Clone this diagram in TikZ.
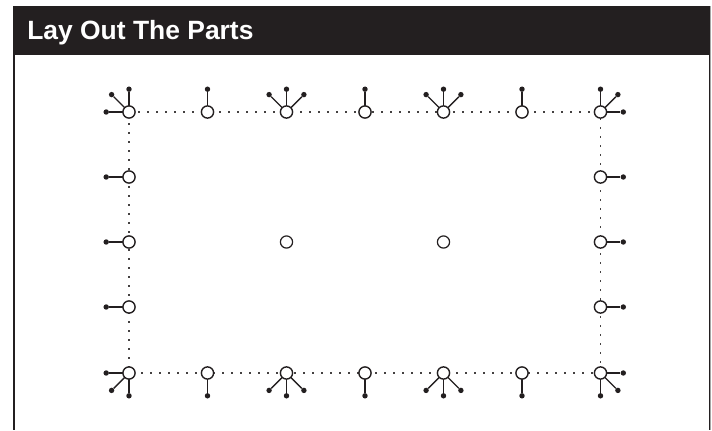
\documentclass[tikz,border=0pt]{standalone}
\usepackage{fontspec}
\setmainfont{Liberation Sans}
\definecolor{barNegro}{HTML}{231F20}
\begin{document}
\begin{tikzpicture}[
        x=0.025cm, y=-0.025cm,
        part/.style={circle, draw=barNegro, line width=1pt, fill=white, minimum size=0.305cm, inner sep=0pt},
        tip/.style={circle, fill=barNegro, minimum size=0.135cm, inner sep=0pt},
        lead/.style={draw=barNegro, line width=1pt},
        trace/.style={draw=barNegro!85, line width=1pt, dash pattern=on 1pt off 5.4pt}
    ]
        \useasboundingbox (0,0) rectangle (712,430);

        % Cabecera
        \fill[barNegro] (13.3,6) rectangle (709.5,55);
        \node[anchor=base west, text=white, font=\bfseries\fontsize{18.8}{22}\selectfont, inner sep=0pt] (titulo) at (27,39.3) {Lay Out The Parts};
        \draw[gray!70, line width=0.7pt] (710.5,6) -- (710.5,430);
        \draw[barNegro, line width=1.05pt] (14,55) -- (14,430);
        \draw[barNegro, line width=1.05pt] (709.5,55) -- (709.5,430);

        % Puntos del perimetro (fila superior, lados, fila inferior)
        \foreach \nm/\px in {a/129, b/207.5, c/286.5, d/365, e/443.5, f/522, g/600.5} {
            \coordinate (\nm t) at (\px,112);
            \coordinate (\nm b) at (\px,373);
        }
        \foreach \nm/\py in {h/177, i/242, j/307} {
            \coordinate (\nm l) at (129,\py);
            \coordinate (\nm r) at (600.5,\py);
        }

        % Trazas punteadas
        \draw[trace, dash phase=6.3pt] (at) -- (bt) -- (ct) -- (dt) -- (et) -- (ft) -- (gt);
        \draw[trace, dash phase=4.16pt] (ab) -- (bb) -- (cb) -- (db) -- (eb) -- (fb) -- (gb);
        \draw[trace, dash phase=4.66pt] (at) -- (hl) -- (il) -- (jl) -- (ab);
        \draw[trace, dash phase=1.82pt] (gt) -- (hr) -- (ir) -- (jr) -- (gb);

        % Partes y sus patillas
        \foreach \nm/\angles in {at/{90,135,180}, bt/{90}, ct/{45,90,135}, dt/{90}, et/{45,90,135}, ft/{90}, gt/{0,45,90},
                                 hl/{180}, il/{180}, jl/{180}, hr/{0}, ir/{0}, jr/{0},
                                 ab/{180,225,270}, bb/{270}, cb/{225,270,315}, db/{270}, eb/{225,270,315}, fb/{270}, gb/{0,270,315}} {
            \foreach \ang in \angles {
                \pgfmathsetmacro\reach{mod(\ang,90)==0 ? 0.57 : 0.615}
                \node[tip] (\nm-\ang) at ([shift={(\ang:\reach cm)}]\nm) {};
                \draw[lead] (\nm) -- (\nm-\ang);
            }
            \node[part] (\nm-part) at (\nm) {};
        }

        % Partes del centro
        \node[part, line width=0.85pt] (mid1) at (286.5,242) {};
        \node[part, line width=0.85pt] (mid2) at (443.5,242) {};
    \end{tikzpicture}
\end{document}
